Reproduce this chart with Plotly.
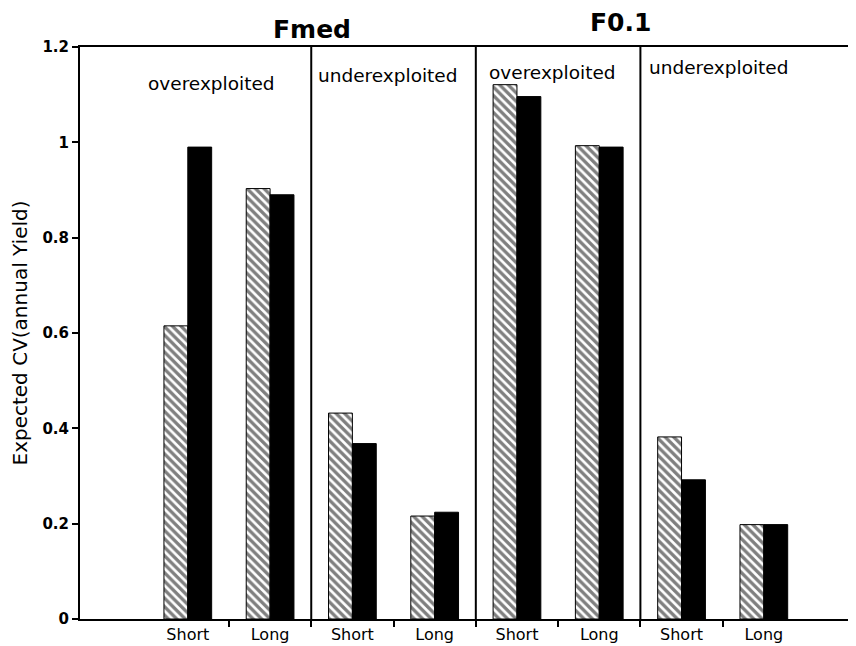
import plotly.graph_objects as go

categories = ["Short", "Long", "Short", "Long", "Short", "Long", "Short", "Long"]
hatched_vals = [0.615, 0.903, 0.432, 0.216, 1.121, 0.993, 0.382, 0.198]
black_vals = [0.99, 0.89, 0.368, 0.224, 1.096, 0.99, 0.292, 0.198]
ytick_vals = [0, 0.2, 0.4, 0.6, 0.8, 1.0, 1.2]
ytick_text = ["0", "0.2", "0.4", "0.6", "0.8", "1", "1.2"]
group_titles = ["Fmed", "F0.1"]
section_labels = ["overexploited", "underexploited", "overexploited", "underexploited"]

xpos = list(range(len(categories)))
FONT = "DejaVu Sans"

fig = go.Figure()
fig.add_trace(go.Bar(
    x=xpos, y=hatched_vals,
    marker=dict(color="white", line=dict(color="black", width=1),
                pattern=dict(shape="\\", fgcolor="black", bgcolor="white",
                             size=6, solidity=0.55)),
    showlegend=False,
))
fig.add_trace(go.Bar(
    x=xpos, y=black_vals,
    marker=dict(color="black", line=dict(color="black", width=1)),
    showlegend=False,
))

# group divider lines
for xd in [1.5, 3.5, 5.5]:
    fig.add_shape(type="line", xref="x", yref="y", x0=xd, x1=xd, y0=0, y1=1.2,
                  line=dict(color="black", width=2))

# section labels
sec_x = [0.29, 2.43, 4.43, 6.45]
sec_y = [1.124, 1.141, 1.147, 1.156]
for lab, sx, sy in zip(section_labels, sec_x, sec_y):
    fig.add_annotation(x=sx, y=sy, xref="x", yref="y", text=lab, showarrow=False,
                       xanchor="center", yanchor="middle",
                       font=dict(family=FONT, size=18.5, color="black"))

# group titles
for t, gx, gy in zip(group_titles, [1.51, 5.26], [1.031, 1.042]):
    fig.add_annotation(x=gx, y=gy, xref="x", yref="paper", text=t, showarrow=False,
                       xanchor="center", yanchor="middle",
                       font=dict(family=FONT, size=25, color="black", weight="bold"))

fig.update_layout(
    width=848, height=638,
    margin=dict(l=72, r=0, t=39, b=27),
    paper_bgcolor="white", plot_bgcolor="white",
    barmode="group", bargap=0.42, bargroupgap=0,
    font=dict(family=FONT, color="black"),
)
fig.update_xaxes(
    range=[-1.31, 8.12],
    tickmode="array", tickvals=xpos, ticktext=categories,
    ticks="outside", ticklen=0,
    tickfont=dict(family=FONT, size=16, color="black"),
    showline=True, linecolor="black", linewidth=2, mirror=True,
    showgrid=False, zeroline=False,
    minor=dict(tickvals=[0.5, 1.5, 2.5, 3.5, 4.5, 5.5, 6.5], ticks="outside",
               ticklen=6, tickcolor="black", tickwidth=2, showgrid=False),
)
fig.update_yaxes(
    range=[0, 1.2],
    tickmode="array", tickvals=ytick_vals, ticktext=ytick_text,
    ticks="outside", ticklen=6, tickwidth=2, tickcolor="black",
    tickfont=dict(family=FONT, size=15, color="black", weight="bold"),
    showline=True, linecolor="black", linewidth=2,
    showgrid=False, zeroline=False,
    title=dict(text="Expected CV(annual Yield)", standoff=10,
               font=dict(family=FONT, size=20, color="black")),
)

fig.write_html("out.html")
